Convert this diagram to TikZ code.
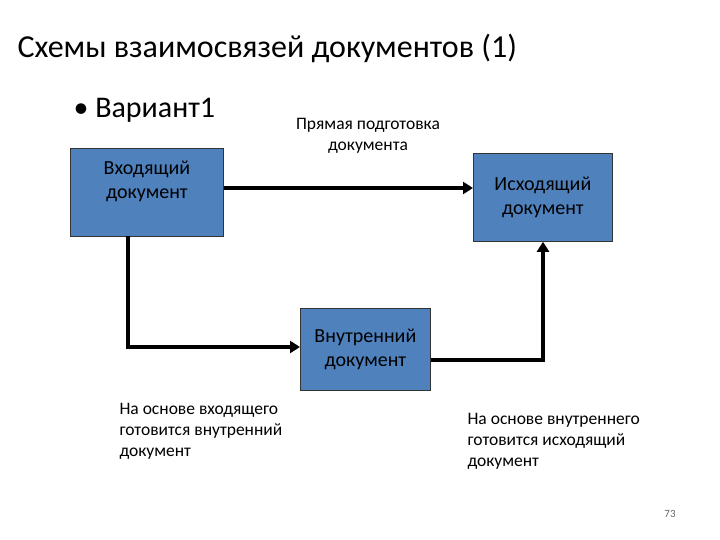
\documentclass[tikz,border=0pt]{standalone}
\usepackage{fontspec}
\setmainfont{Carlito}
\usetikzlibrary{arrows.meta}
\definecolor{boxblue}{HTML}{4F81BD}
\begin{document}
\begin{tikzpicture}[x=1pt,y=-1pt,
  doc/.style={draw=black!80,fill=boxblue,line width=0.8pt,align=center,font=\fontsize{20}{24}\selectfont},
  lbl/.style={align=left,anchor=north west,font=\fontsize{17.5}{21}\selectfont},
  conn/.style={line width=3.5pt,-{Triangle[length=10pt,width=12pt]}}]
\useasboundingbox (0,0) rectangle (720,540);
\node[anchor=west,font=\fontsize{32}{36}\selectfont] (title) at (14,48) {Схемы взаимосвязей документов (1)};
\node[anchor=west,font=\fontsize{30}{34}\selectfont] (bul) at (70,110) {• Вариант1};
\node[align=center,font=\fontsize{17.5}{21}\selectfont] (direct) at (368,136) {Прямая подготовка\\документа};
\node[doc,minimum width=153pt,minimum height=88pt,anchor=north west,text depth=26pt] (in) at (70,148) {Входящий\\документ};
\node[doc,minimum width=139pt,minimum height=88pt,anchor=north west] (out) at (473,153) {Исходящий\\документ};
\node[doc,minimum width=130pt,minimum height=82pt,anchor=north west] (mid) at (300,308) {Внутренний\\документ};
\node[lbl] (l1) at (116,400) {На основе входящего\\готовится внутренний\\документ};
\node[lbl] (l2) at (464,410) {На основе внутреннего\\готовится исходящий\\документ};
\node[font=\fontsize{11}{13}\selectfont,text=black!60] (pg) at (670,514) {73};
\draw[conn] (in.east |- 0,188) -- (out.west |- 0,188);
\coordinate (c1) at (128,347);
\draw[conn] (128,236) -- (c1) -- (mid.west |- c1);
\coordinate (c2) at (543,360);
\draw[conn] (mid.east |- c2) -- (c2) -- (out.south -| c2);
\end{tikzpicture}
\end{document}
